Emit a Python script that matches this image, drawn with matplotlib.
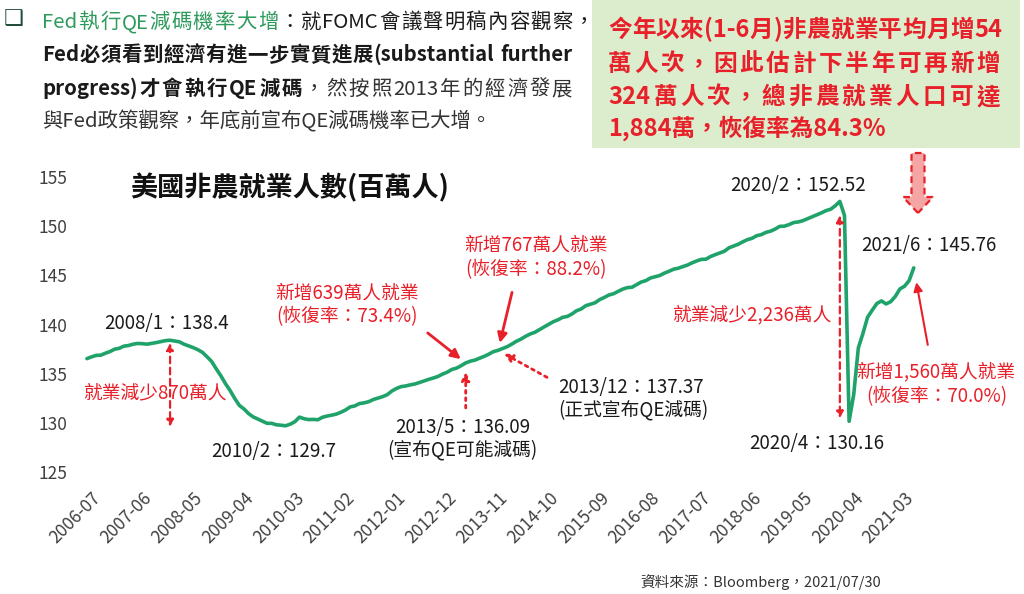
import re
import numpy as np
import pandas as pd
import matplotlib
matplotlib.use('Agg')
import matplotlib.pyplot as plt
from matplotlib.patches import FancyArrow, Rectangle
from matplotlib.transforms import ScaledTranslation

plt.rcParams['font.family'] = ['Noto Sans CJK TC', 'DejaVu Sans']

# 美國非農就業人數(百萬人), 2006-07 ~ 2021-06 月資料
months = pd.period_range('2006-07', periods=180, freq='M').strftime('%Y-%m').tolist()
payrolls = [
    136.53, 136.71, 136.86, 136.88, 137.08, 137.25,                                          # 2006
    137.49, 137.58, 137.80, 137.86, 138.00, 138.07, 138.05, 138.00, 138.08, 138.16, 138.26, 138.36,  # 2007
    138.40, 138.32, 138.24, 138.00, 137.82, 137.65, 137.44, 137.17, 136.72, 136.24, 135.49, 134.78,  # 2008
    133.98, 133.28, 132.48, 131.77, 131.41, 130.94, 130.60, 130.38, 130.15, 129.95, 129.95, 129.80,  # 2009
    129.76, 129.70, 129.86, 130.11, 130.58, 130.42, 130.33, 130.35, 130.31, 130.57, 130.69, 130.78,  # 2010
    130.89, 131.08, 131.31, 131.62, 131.72, 131.96, 132.03, 132.15, 132.37, 132.51, 132.66, 132.86,  # 2011
    133.23, 133.49, 133.68, 133.75, 133.86, 133.95, 134.10, 134.26, 134.42, 134.56, 134.72, 134.96,  # 2012
    135.15, 135.43, 135.56, 135.81, 136.09, 136.27, 136.38, 136.57, 136.76, 136.98, 137.24, 137.37,  # 2013
    137.56, 137.75, 138.01, 138.30, 138.52, 138.81, 139.04, 139.21, 139.49, 139.76, 140.03, 140.29,  # 2014
    140.48, 140.73, 140.82, 141.07, 141.40, 141.58, 141.91, 142.06, 142.21, 142.53, 142.75, 143.00,  # 2015
    143.13, 143.37, 143.60, 143.75, 143.79, 144.05, 144.32, 144.46, 144.73, 144.86, 144.98, 145.22,  # 2016
    145.41, 145.62, 145.72, 145.89, 146.04, 146.27, 146.46, 146.62, 146.64, 146.91, 147.10, 147.27,  # 2017
    147.45, 147.80, 147.98, 148.16, 148.41, 148.63, 148.77, 149.03, 149.14, 149.37, 149.49, 149.71,  # 2018
    149.98, 150.00, 150.16, 150.37, 150.43, 150.56, 150.76, 150.96, 151.16, 151.35, 151.58, 151.72,  # 2019
    152.07, 152.52, 151.09, 130.16, 132.88, 137.62, 139.09, 140.74, 141.45, 142.13, 142.40, 142.09,  # 2020
    142.32, 142.85, 143.62, 143.89, 144.47, 145.76,                                          # 2021
]
yticks = [125, 130, 135, 140, 145, 150, 155]
tick_step = 11

GREEN = '#1fa36a'
RED = '#e8202a'
DARK = '#1a1a1a'

W, H = 1024, 594
fig = plt.figure(figsize=(W / 100, H / 100), dpi=100)


def fx(px):
    return px / W


def fy(py):
    return 1 - py / H


ax = fig.add_axes([fx(80), fy(472), fx(923) - fx(80), fy(177) - fy(472)])
x = np.arange(len(payrolls))
ax.plot(x, payrolls, color=GREEN, lw=2.6, solid_joinstyle='round', solid_capstyle='round')
ax.set_xlim(-1.5, 181)
ax.set_ylim(125, 155)
ax.set_yticks(yticks)
ax.set_yticklabels([str(v) for v in yticks], fontsize=12.5, color='#404040')
ax.set_xticks(x[::tick_step])
ax.set_xticklabels(months[::tick_step], fontsize=12.5, color='#404040',
                   rotation=45, ha='right', va='top', rotation_mode='anchor')
ax.tick_params(axis='y', length=0, pad=9)
ax.tick_params(axis='x', length=0, pad=12)
off = ScaledTranslation(0.05, 0, fig.dpi_scale_trans)
for lb in ax.get_xticklabels():
    lb.set_transform(lb.get_transform() + off)
for s in ax.spines.values():
    s.set_visible(False)

# 圖標題
fig.text(fx(130), fy(188), '美國非農就業人數(百萬人)', fontsize=19.5, fontweight='bold',
         color='#111111', ha='left', va='center')


def label(px, py, s, color=DARK, size=13.5, ha='center'):
    fig.text(fx(px), fy(py), s, color=color, fontsize=size, ha=ha, va='center')


def arrow(i, dx, dy, ls='-', lw=2.0, shrink=4, ms=14):
    ax.annotate('', xy=(i, payrolls[i]), xytext=(dx, dy), textcoords='offset pixels',
                arrowprops=dict(arrowstyle='-|>', color=RED, lw=lw, linestyle=ls,
                                shrinkA=0, shrinkB=shrink, mutation_scale=ms))


i08, i10, i13a, i13b = months.index('2008-01'), months.index('2010-02'), months.index('2013-05'), months.index('2013-12')
i20a, i20b, i21 = months.index('2020-02'), months.index('2020-04'), months.index('2021-06')

# 金融海嘯
ax.annotate('', xy=(i08, payrolls[i10] - 0.1), xytext=(i08, payrolls[i08]),
            arrowprops=dict(arrowstyle='<|-|>', color=RED, lw=1.6, linestyle=(0, (3, 2)),
                            shrinkA=2, shrinkB=0, mutation_scale=10))
label(167, 323, '2008/1：138.4')
label(155, 393, '就業減少870萬人', color=RED)
label(274, 452, '2010/2：129.7')

# 2013 QE 減碼
label(347, 293, '新增639萬人就業', color=RED)
label(347, 317, '(恢復率：73.4%)', color=RED)
arrow(i13a, -38, 30, shrink=4.5)
arrow(i13a, 0, -45, ls=':', shrink=6.5, ms=12)
label(463, 428, '2013/5：136.09')
label(462, 450, '(宣布QE可能減碼)')

label(536, 245, '新增767萬人就業', color=RED)
label(536, 270, '(恢復率：88.2%)', color=RED)
arrow(i13b, 14, 58, shrink=5.5)
arrow(i13b, 49, -27, ls=':', shrink=5, ms=12)
label(558, 388, '2013/12：137.37', ha='left')
label(558, 410, '(正式宣布QE減碼)', ha='left')

# 疫情
ax.annotate('', xy=(i20a, payrolls[i20b]), xytext=(i20a, payrolls[i20a]),
            arrowprops=dict(arrowstyle='<|-|>', color=RED, lw=1.6, linestyle=(0, (3, 2)),
                            shrinkA=10, shrinkB=2, mutation_scale=10))
label(798, 185, '2020/2：152.52')
label(752, 315, '就業減少2,236萬人', color=RED)
label(817, 443, '2020/4：130.16')
label(929, 245, '2021/6：145.76')
arrow(i21, 14, -77, lw=1.5, shrink=10.5, ms=13)
label(936, 372, '新增1,560萬人就業', color=RED)
label(937, 397, '(恢復率：70.0%)', color=RED)

# 上方文字
TOKEN = re.compile(r'[\x21-\x7e]+| +|\S')
rend = fig.canvas.get_renderer()


def line(px, py, segs, width=None, size=14.7):
    if width is None:
        xx = px
        for s, c, w in segs:
            t = fig.text(fx(xx), fy(py), s, color=c, fontsize=size, fontweight=w, va='baseline')
            xx += t.get_window_extent(rend).width
        return
    toks = [(tk, c, w) for s, c, w in segs for tk in TOKEN.findall(s)]
    arts = [fig.text(0, fy(py), tk, color=c, fontsize=size, fontweight=w, va='baseline')
            for tk, c, w in toks]
    widths = [a.get_window_extent(rend).width for a in arts]
    gap = (width - sum(widths)) / (len(arts) - 1)
    xx = px
    for a, wd in zip(arts, widths):
        a.set_x(fx(xx))
        xx += wd + gap


fig.text(fx(14), fy(19), '❑', family='DejaVu Sans', fontsize=16, color='#1d4b35',
         ha='center', va='center')
line(42, 28, [('Fed執行QE減碼機率大增', '#2e9a5c', 'medium'),
              ('：就FOMC會議聲明稿內容觀察，', DARK, 'normal')], width=552)
line(42, 61, [('Fed必須看到經濟有進一步實質進展(substantial further', DARK, 'bold')], width=530)
line(42, 95, [('progress)才會執行QE減碼', DARK, 'bold'),
              ('，然按照2013年的經濟發展', '#333333', 'normal')], width=530)
line(42, 127, [('與Fed政策觀察，年底前宣布QE減碼機率已大增。', '#333333', 'normal')])

fig.add_artist(Rectangle((fx(592), fy(148)), fx(1020) - fx(592), 148 / H,
                         transform=fig.transFigure, facecolor='#dcedcd', edgecolor='none', zorder=0))
line(608, 37, [('今年以來(1-6月)非農就業平均月增54', RED, 'bold')], width=394, size=17)
line(608, 71, [('萬人次，因此估計下半年可再新增', RED, 'bold')], width=392, size=17)
line(608, 104, [('324萬人次，總非農就業人口可達', RED, 'bold')], width=392, size=17)
line(608, 136, [('1,884萬，恢復率為84.3%', RED, 'bold')], size=17)

# 下方箭頭(虛線框)
fig.add_artist(FancyArrow(fx(918), fy(153), 0, fy(213) - fy(153), width=fx(13), head_width=fx(30),
                          head_length=16 / H, length_includes_head=True, transform=fig.transFigure,
                          facecolor='#f6a5a5', edgecolor=RED, linestyle=(0, (3, 2)), lw=1.6))

fig.text(fx(640), fy(582), '資料來源：Bloomberg，2021/07/30', fontsize=10.5, color='#333333',
         ha='left', va='center')

fig.savefig('out.png', dpi=100)
